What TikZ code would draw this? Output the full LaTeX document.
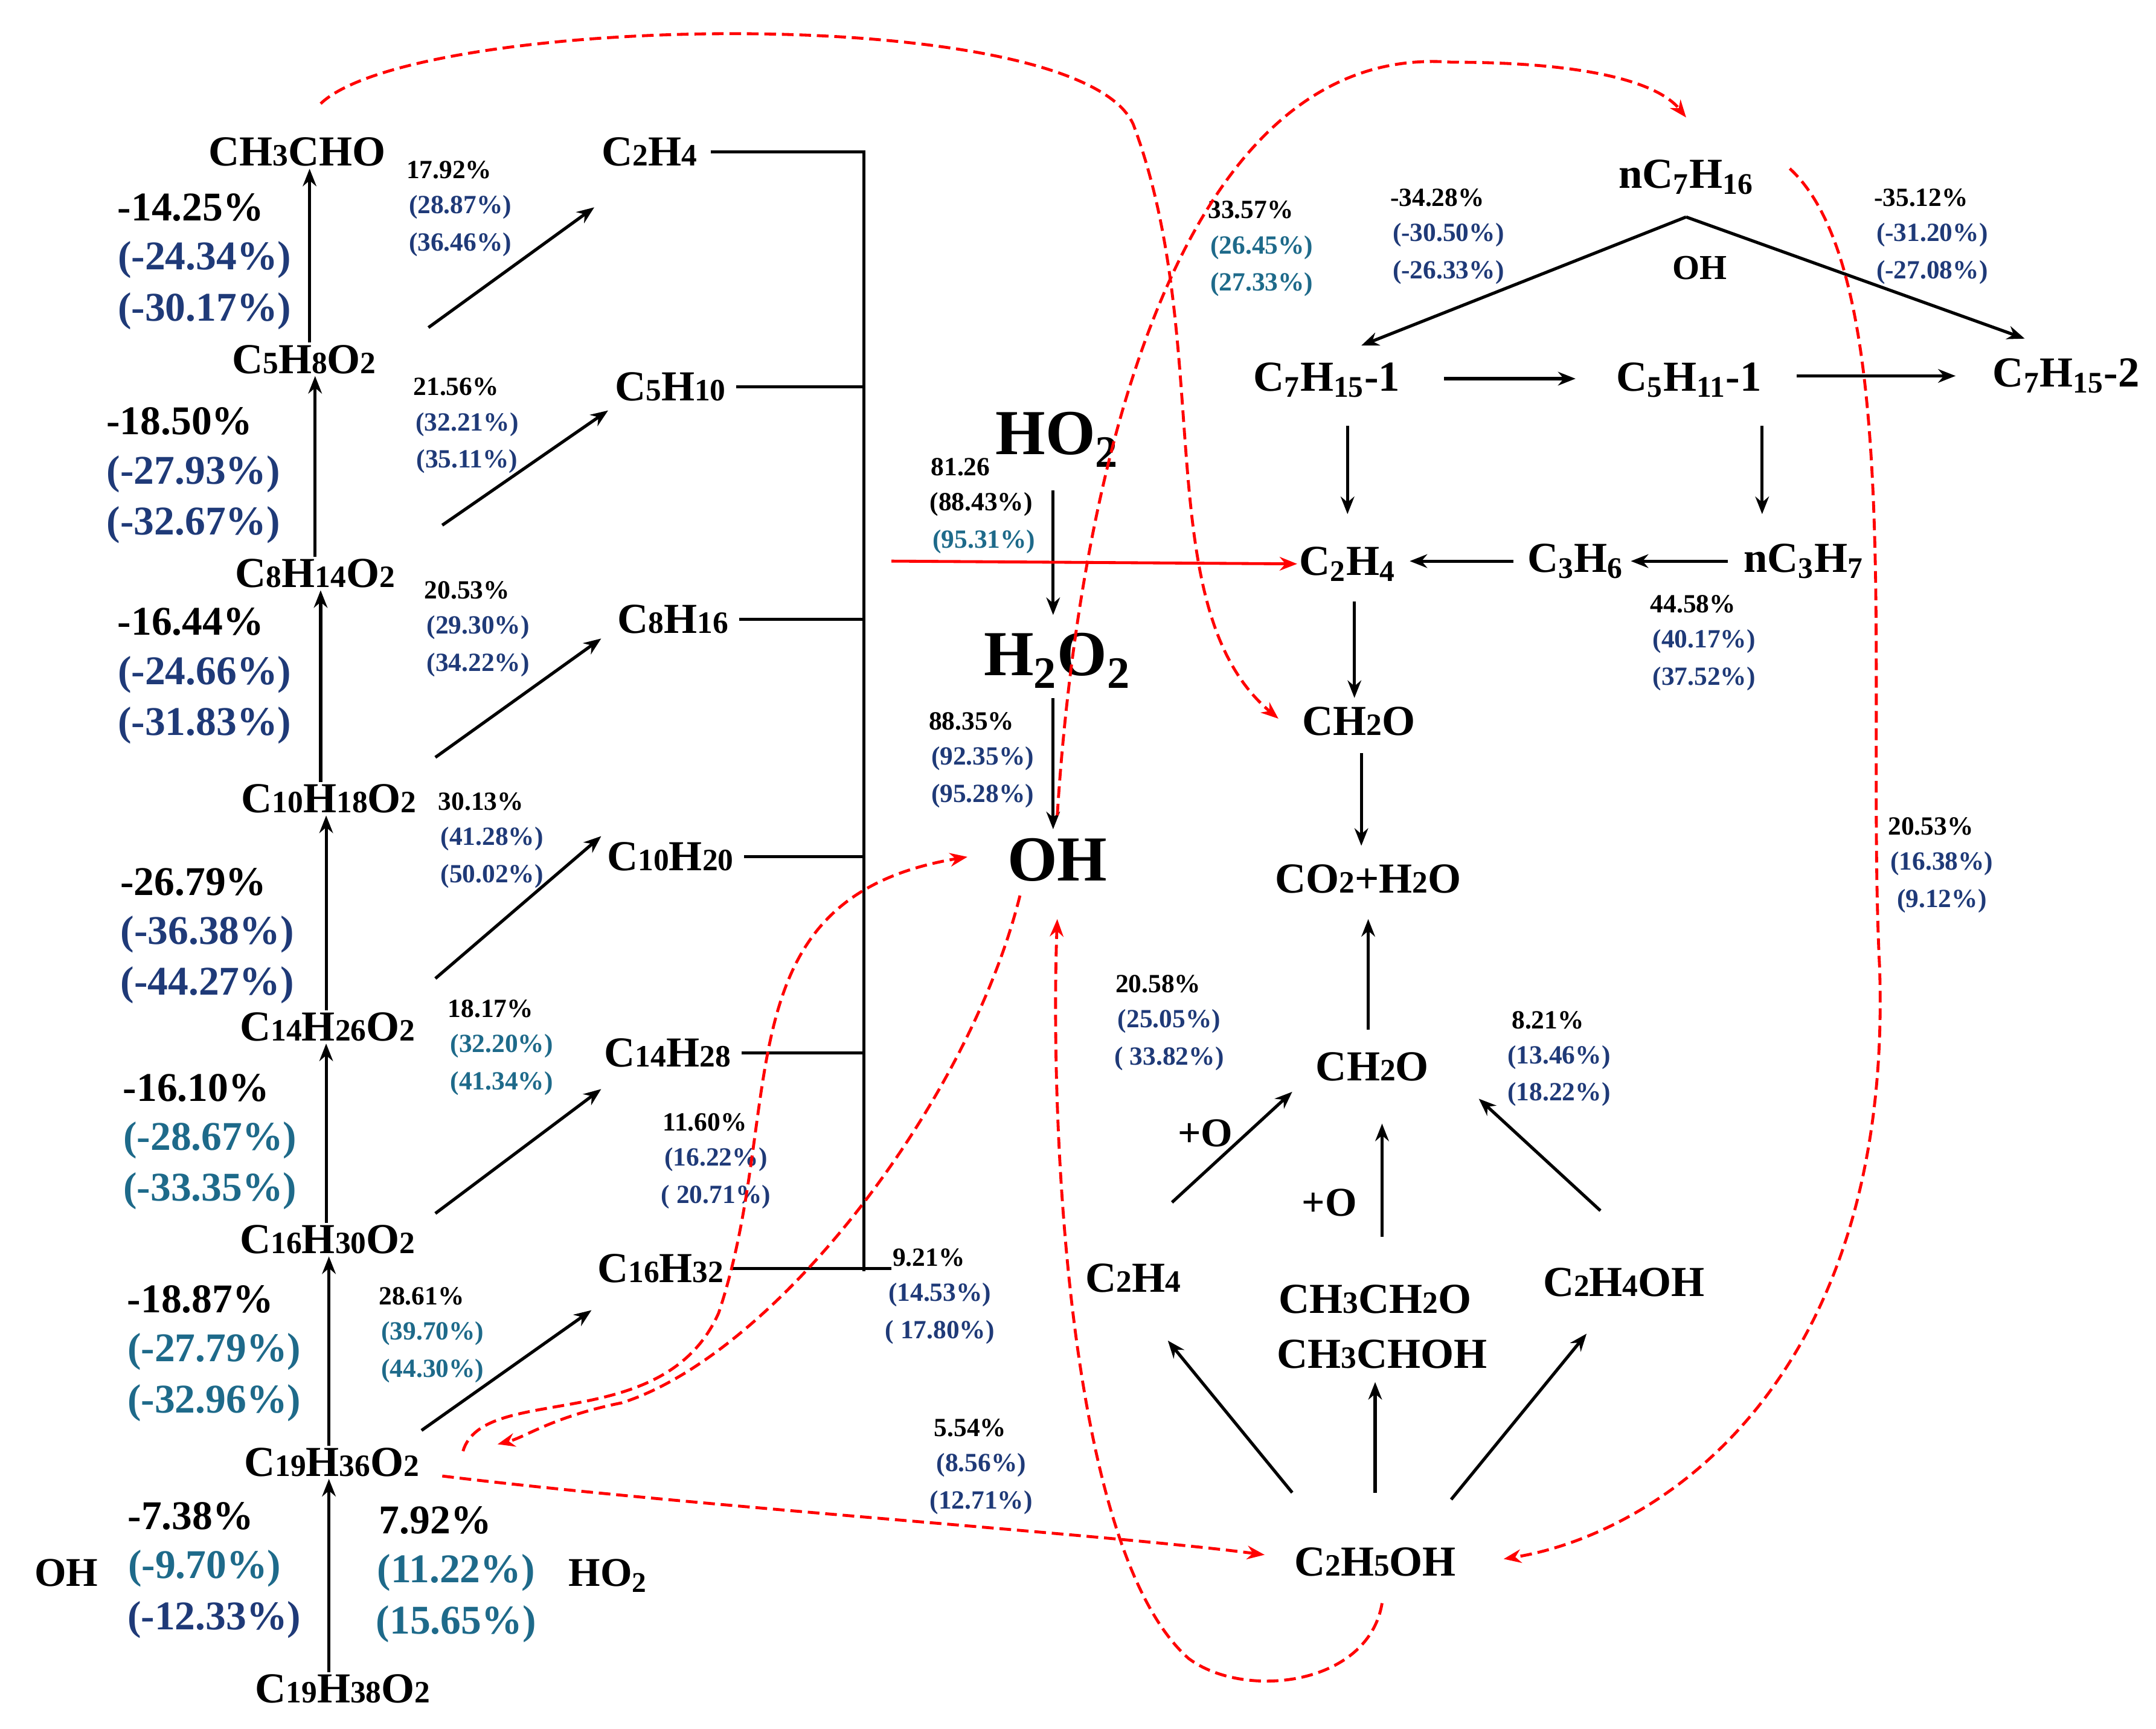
\documentclass[tikz,border=0pt]{standalone}
\usepackage{fontspec}
\setmainfont{Liberation Serif}
\usetikzlibrary{arrows.meta}
\newcommand{\sbs}[1]{\textsubscript{#1}}
\newcommand{\sm}[1]{{\fontsize{16}{17}\selectfont #1}}
\definecolor{nv}{HTML}{1F3A78}
\definecolor{tl}{HTML}{1E6A8A}
\begin{document}
\begin{tikzpicture}[x=0.025cm,y=-0.025cm,
 sp/.style={font=\bfseries\fontsize{22}{24}\selectfont,inner sep=1pt},
 big/.style={font=\bfseries\fontsize{33}{35}\selectfont,inner sep=1pt},
 lp/.style={font=\bfseries\fontsize{21}{23}\selectfont,inner sep=1pt},
 pc/.style={font=\bfseries\fontsize{13.5}{14}\selectfont,inner sep=1pt},
 ar/.style={-{Stealth[length=9pt,width=7pt]},line width=1.6pt},
 rd/.style={-{Stealth[length=9pt,width=7pt]},red,dashed,line width=1.5pt,dash pattern=on 6pt off 3pt},
 br/.style={line width=1.6pt}]
\useasboundingbox (0,0) rectangle (1560,1251);
% left chain
\node[sp] (a1) at (215,110) {CH\sm{3}CHO};
\node[sp] (a2) at (220,260) {C\sm{5}H\sm{8}O\sm{2}};
\node[sp] (a3) at (228,415) {C\sm{8}H\sm{14}O\sm{2}};
\node[sp] (a4) at (238,578) {C\sm{10}H\sm{18}O\sm{2}};
\node[sp] (a5) at (237,743) {C\sm{14}H\sm{26}O\sm{2}};
\node[sp] (a6) at (237,897) {C\sm{16}H\sm{30}O\sm{2}};
\node[sp] (a7) at (240,1058) {C\sm{19}H\sm{36}O\sm{2}};
\node[sp] (a8) at (248,1222) {C\sm{19}H\sm{38}O\sm{2}};
\foreach \u/\v/\x in {a2/a1/224,a3/a2/228,a4/a3/232,a5/a4/236,a6/a5/236,a7/a6/238,a8/a7/238}
  \draw[ar] (\u.north -| \x,0) -- (\v.south -| \x,0);
% left percents
\foreach \x/\y/\a/\b/\c/\col in {138/150/-14.25/-24.34/-30.17/nv,130/305/-18.50/-27.93/-32.67/nv,138/450/-16.44/-24.66/-31.83/nv,140/638/-26.79/-36.38/-44.27/nv,142/787/-16.10/-28.67/-33.35/tl,145/940/-18.87/-27.79/-32.96/tl}{
 \node[lp] at (\x,\y) {\a\%};
 \node[lp,text=\col] at (\x+10,\y+38) {(\b\%)};
 \node[lp,text=\col] at (\x+10,\y+75) {(\c\%)};}
\node[lp] (p1) at (138,1097) {-7.38\%};
\node[lp,text=tl] (p2) at (148,1135) {(-9.70\%)};
\node[lp,text=nv] (p3) at (155,1172) {(-12.33\%)};
\node[lp] (oh1) at (48,1138) {OH};
\node[lp] (p4) at (315,1100) {7.92\%};
\node[lp,text=tl] (p5) at (330,1138) {(11.22\%)};
\node[lp,text=tl] (p6) at (330,1175) {(15.65\%)};
\node[lp] (ho1) at (440,1140) {HO\sbs{2}};
% alkenes
\node[sp] (b1) at (470,110) {C\sm{2}H\sm{4}};
\node[sp] (b2) at (485,280) {C\sm{5}H\sm{10}};
\node[sp] (b3) at (487,448) {C\sm{8}H\sm{16}};
\node[sp] (b4) at (485,620) {C\sm{10}H\sm{20}};
\node[sp] (b5) at (483,762) {C\sm{14}H\sm{28}};
\node[sp] (b6) at (478,918) {C\sm{16}H\sm{32}};
\coordinate (t) at (625,110);
\coordinate (bt) at (625,920);
\draw[br] (b1.east) ++(8,0) -- (t) -- (bt);
\foreach \n in {b2,b3,b4,b5} \draw[br] (\n.east) ++(6,0) -- (\n.east -| t);
\coordinate (be) at (645,918);
\draw[br] (b6.east) ++(4,0) -- (be);
% diagonal arrows
\draw[ar] (310,237) -- (430,150);
\draw[ar] (320,380) -- (440,297);
\draw[ar] (315,548) -- (435,462);
\draw[ar] (315,708) -- (435,605);
\draw[ar] (315,878) -- (435,788);
\draw[ar] (305,1035) -- (428,948);
\foreach \x/\y/\a/\b/\c/\col in {325/123/17.92/28.87/36.46/nv,330/280/21.56/32.21/35.11/nv,338/427/20.53/29.30/34.22/nv,348/580/30.13/41.28/50.02/nv,355/730/18.17/32.20/41.34/tl,305/938/28.61/39.70/44.30/tl,510/812/11.60/16.22/\ 20.71/nv,672/910/9.21/14.53/\ 17.80/nv,702/1033/5.54/8.56/12.71/nv,905/152/33.57/26.45/27.33/tl,1040/143/-34.28/-30.50/-26.33/nv,1390/143/-35.12/-31.20/-27.08/nv,1225/437/44.58/40.17/37.52/nv,1397/598/20.53/16.38/9.12/nv,838/712/20.58/25.05/\ 33.82/nv,1120/738/8.21/13.46/18.22/nv,703/522/88.35/92.35/95.28/nv}{
 \node[pc] at (\x,\y) {\a\%};
 \node[pc,text=\col] at (\x+8,\y+27) {(\b\%)};
 \node[pc,text=\col] at (\x+8,\y+54) {(\c\%)};}
% middle
\node[big] (ho2) at (765,318) {HO\sbs{2}};
\node[pc] at (695,338) {81.26};
\node[pc] at (710,365) {(88.43\%)};
\node[pc,text=tl] at (712,392) {(95.31\%)};
\node[big] (h2o2) at (765,478) {H\sbs{2}O\sbs{2}};
\node[big] (oh) at (765,622) {OH};
\draw[ar] (762,355) -- (762,445);
\draw[ar] (762,505) -- (762,600);
% right
\node[sp] (n7) at (1220,128) {nC\sbs{7}H\sbs{16}};
\node[lp,font=\bfseries\fontsize{18}{19}\selectfont] (oh2) at (1230,194) {OH};
\node[sp] (r1) at (960,275) {C\sbs{7}H\sbs{15}-1};
\node[sp] (r2) at (1222,275) {C\sbs{5}H\sbs{11}-1};
\node[sp] (r3) at (1495,272) {C\sbs{7}H\sbs{15}-2};
\coordinate (ns) at (1220,157);
\draw[ar] (ns) -- (985,250);
\draw[ar] (ns) -- (1465,245);
\draw[ar] (1045,274) -- (1140,274);
\draw[ar] (1300,272) -- (1415,272);
\node[sp] (c2) at (975,408) {C\sbs{2}H\sbs{4}};
\node[sp] (c3) at (1140,406) {C\sbs{3}H\sbs{6}};
\node[sp] (c4) at (1305,406) {nC\sbs{3}H\sbs{7}};
\draw[ar] (975,308) -- (975,372);
\draw[ar] (1275,308) -- (1275,372);
\draw[ar] (1250,406) -- (1180,406);
\draw[ar] (1095,406) -- (1020,406);
\node[sp] (f1) at (983,522) {CH\sm{2}O};
\node[sp] (co) at (990,636) {CO\sm{2}+H\sm{2}O};
\node[sp] (f2) at (993,772) {CH\sm{2}O};
\draw[ar] (980,435) -- (980,505);
\draw[ar] (985,545) -- (985,612);
\draw[ar] (990,745) -- (990,665);
\node[sp] (e1) at (820,925) {C\sm{2}H\sm{4}};
\node[sp] (e2) at (995,940) {CH\sm{3}CH\sm{2}O};
\node[sp] (e3) at (1000,980) {CH\sm{3}CHOH};
\node[sp] (e4) at (1175,928) {C\sm{2}H\sm{4}OH};
\node[sp] (et) at (995,1130) {C\sm{2}H\sm{5}OH};
\node[lp] (o1) at (872,820) {+O};
\node[lp] (o2) at (962,870) {+O};
\draw[ar] (848,870) -- (935,790);
\draw[ar] (1000,895) -- (1000,813);
\draw[ar] (1158,876) -- (1070,795);
\draw[ar] (935,1080) -- (845,970);
\draw[ar] (995,1080) -- (995,1000);
\draw[ar] (1050,1085) -- (1148,965);
% red
\draw[-{Stealth[length=9pt,width=7pt]},red,line width=1.5pt] (645,406) -- (c2.west);
\draw[rd] (232,75) .. controls (300,10) and (780,0) .. (820,90) .. controls (880,250) and (830,440) .. (925,520);
\draw[rd] (765,590) .. controls (780,350) and (850,30) .. (1050,45) .. controls (1150,45) and (1200,60) .. (1220,85);
\draw[rd] (1295,122) .. controls (1380,200) and (1350,500) .. (1360,700) .. controls (1370,1000) and (1200,1110) .. (1088,1128);
\draw[rd] (1000,1160) .. controls (990,1220) and (900,1230) .. (860,1200) .. controls (770,1120) and (760,800) .. (765,665);
\draw[rd] (738,648) .. controls (700,800) and (560,980) .. (450,1015) .. controls (400,1025) and (380,1040) .. (360,1045);
\draw[rd] (335,1050) .. controls (350,1000) and (480,1040) .. (520,950) .. controls (570,800) and (520,650) .. (700,620);
\draw[rd] (320,1068) .. controls (500,1090) and (800,1110) .. (915,1125);
\end{tikzpicture}
\end{document}
